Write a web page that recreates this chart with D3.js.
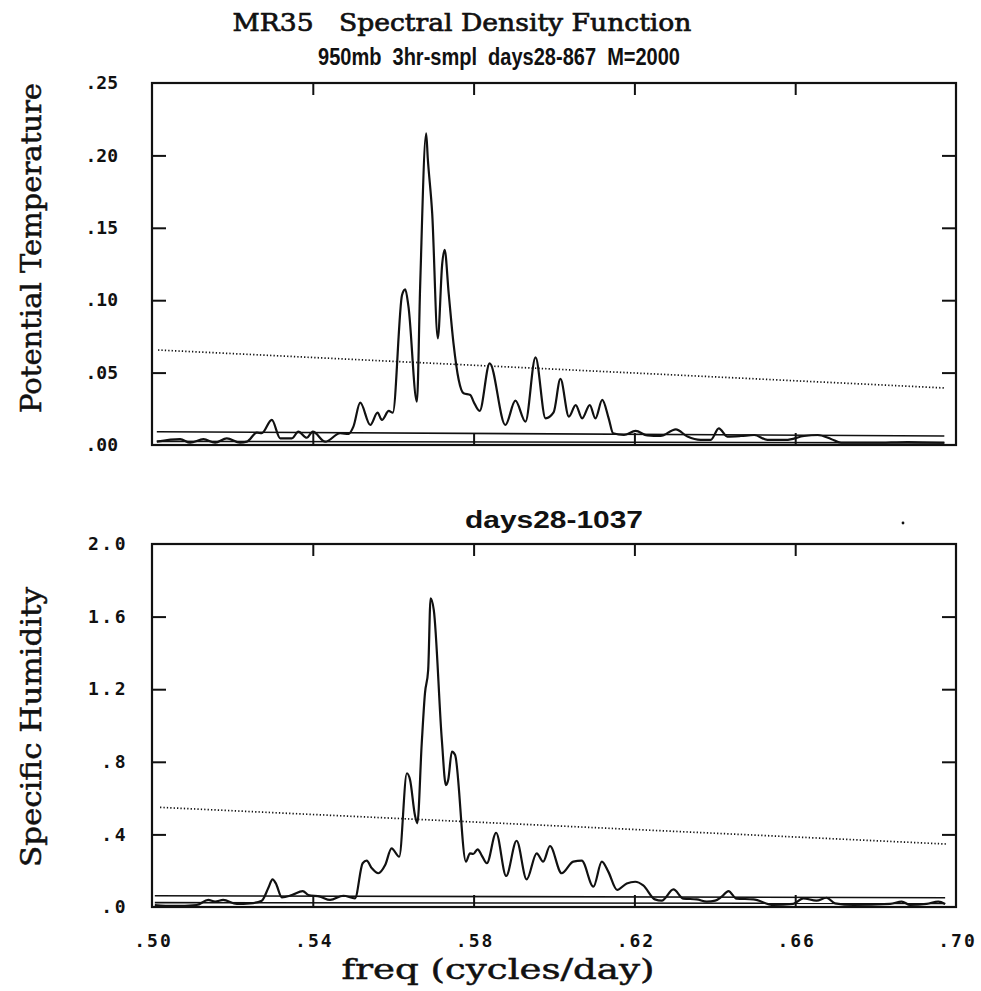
<!DOCTYPE html>
<html>
<head>
<meta charset="utf-8">
<script src="https://cdn.jsdelivr.net/npm/d3@7"></script>
<style>
  html, body { margin: 0; padding: 0; background: #fff; }
  svg { display: block; }
  .tick-label { font-family: "DejaVu Sans Mono", monospace; font-weight: bold; font-size: 18px;
    font-variant-numeric: slashed-zero; font-feature-settings: "zero" 1; fill: #111; }
</style>
</head>
<body>
<svg id="chart" width="981" height="991"></svg>
<script>
// ---- shared frequency axis (cycles/day) ----
const freqTicks = [0.50, 0.54, 0.58, 0.62, 0.66, 0.70];
const freqTickLabels = [".50", ".54", ".58", ".62", ".66", ".70"];

// ---- potential temperature spectrum (days 28-867) ----
const thetaTicks = [0.00, 0.05, 0.10, 0.15, 0.20, 0.25];
const thetaTickLabels = [".00", ".05", ".10", ".15", ".20", ".25"];
const thetaFreq = [
  0.5012, 0.5070, 0.5095, 0.5128, 0.5157, 0.5186, 0.5219, 0.5236, 0.5261, 0.5273,
  0.5298, 0.5319, 0.5348, 0.5364, 0.5385, 0.5400, 0.5431, 0.5468, 0.5489, 0.5501,
  0.5518, 0.5543, 0.5561, 0.5572, 0.5589, 0.5599, 0.5622, 0.5630, 0.5638, 0.5659,
  0.5667, 0.5682, 0.5686, 0.5697, 0.5711, 0.5722, 0.5728, 0.5738, 0.5750, 0.5763,
  0.5775, 0.5792, 0.5800, 0.5815, 0.5840, 0.5879, 0.5904, 0.5929, 0.5954, 0.5979,
  0.5999, 0.6016, 0.6037, 0.6054, 0.6070, 0.6089, 0.6103, 0.6120, 0.6136, 0.6147,
  0.6174, 0.6203, 0.6232, 0.6265, 0.6303, 0.6332, 0.6365, 0.6390, 0.6410, 0.6431,
  0.6465, 0.6498, 0.6531, 0.6577, 0.6622, 0.6656, 0.6689, 0.6714, 0.6797, 0.6880,
  0.6971
];
const thetaDensity = [
  0.0023, 0.0040, 0.0016, 0.0040, 0.0016, 0.0046, 0.0016, 0.0023, 0.0085, 0.0081,
  0.0173, 0.0046, 0.0046, 0.0092, 0.0050, 0.0092, 0.0023, 0.0081, 0.0077, 0.0127,
  0.0292, 0.0138, 0.0223, 0.0173, 0.0235, 0.0223, 0.1036, 0.1075, 0.0955, 0.0299,
  0.1093, 0.2153, 0.1980, 0.1600, 0.0737, 0.1255, 0.1347, 0.1048, 0.0702, 0.0449,
  0.0357, 0.0345, 0.0299, 0.0235, 0.0564, 0.0138, 0.0306, 0.0161, 0.0605, 0.0184,
  0.0225, 0.0456, 0.0196, 0.0276, 0.0184, 0.0276, 0.0184, 0.0311, 0.0184, 0.0081,
  0.0069, 0.0097, 0.0066, 0.0062, 0.0108, 0.0058, 0.0035, 0.0035, 0.0115, 0.0058,
  0.0062, 0.0069, 0.0035, 0.0035, 0.0062, 0.0069, 0.0042, 0.0016, 0.0016, 0.0020,
  0.0016
];
// significance level (dotted) and confidence bounds (solid), as end points
const thetaSignifFreq = [0.5015, 0.6970];
const thetaSignif = [0.0656, 0.0394];
const thetaBoundFreq = [0.5012, 0.6971];
const thetaUpperBound = [0.0092, 0.0062];
const thetaLowerBound = [0.0025, 0.0015];

// ---- specific humidity spectrum (days 28-1037) ----
const qTicks = [0.0, 0.4, 0.8, 1.2, 1.6, 2.0];
const qTickLabels = [".0", ".4", ".8", "1.2", "1.6", "2.0"];
const qFreq = [
  0.5007, 0.5053, 0.5111, 0.5140, 0.5157, 0.5177, 0.5211, 0.5244, 0.5273, 0.5289,
  0.5300, 0.5308, 0.5323, 0.5348, 0.5375, 0.5389, 0.5418, 0.5443, 0.5476, 0.5505,
  0.5524, 0.5534, 0.5547, 0.5563, 0.5580, 0.5596, 0.5615, 0.5634, 0.5642, 0.5654,
  0.5660, 0.5671, 0.5679, 0.5687, 0.5693, 0.5701, 0.5721, 0.5731, 0.5737, 0.5746,
  0.5754, 0.5781, 0.5791, 0.5799, 0.5810, 0.5820, 0.5833, 0.5856, 0.5881, 0.5907,
  0.5932, 0.5957, 0.5973, 0.5990, 0.6019, 0.6048, 0.6069, 0.6098, 0.6119, 0.6135,
  0.6157, 0.6181, 0.6202, 0.6222, 0.6251, 0.6268, 0.6297, 0.6322, 0.6355, 0.6380,
  0.6401, 0.6417, 0.6434, 0.6454, 0.6496, 0.6546, 0.6595, 0.6620, 0.6653, 0.6678,
  0.6699, 0.6745, 0.6836, 0.6865, 0.6886, 0.6927, 0.6956, 0.6973
];
const qDensity = [
  0.011, 0.006, 0.011, 0.039, 0.030, 0.039, 0.017, 0.020, 0.035, 0.103,
  0.152, 0.130, 0.053, 0.066, 0.088, 0.066, 0.057, 0.039, 0.062, 0.048,
  0.241, 0.255, 0.213, 0.186, 0.231, 0.323, 0.277, 0.737, 0.700, 0.507,
  0.461, 0.902, 1.177, 1.306, 1.701, 1.636, 0.920, 0.672, 0.703, 0.856,
  0.837, 0.250, 0.296, 0.292, 0.318, 0.285, 0.241, 0.409, 0.171, 0.365,
  0.152, 0.296, 0.250, 0.336, 0.186, 0.250, 0.255, 0.112, 0.250, 0.195,
  0.094, 0.130, 0.139, 0.119, 0.042, 0.035, 0.097, 0.046, 0.042, 0.030,
  0.035, 0.057, 0.088, 0.046, 0.042, 0.011, 0.017, 0.048, 0.035, 0.051,
  0.020, 0.011, 0.017, 0.030, 0.011, 0.017, 0.030, 0.017
];
const qSignifFreq = [0.5020, 0.6975];
const qSignif = [0.549, 0.347];
const qBoundFreq = [0.5007, 0.6973];
const qUpperBound = [0.062, 0.051];
const qLowerBound = [0.024, 0.020];

// ---- drawing ----
const ink = "#111";
const svg = d3.select("#chart");
const x = d3.scaleLinear().domain([0.50, 0.70]).range([152, 956]);
const zip = (fs, vs) => fs.map((f, i) => [f, vs[i]]);

function drawPanel(cfg) {
  const y = d3.scaleLinear().domain([cfg.ticks[0], cfg.ticks[cfg.ticks.length - 1]])
    .range([cfg.bottom, cfg.top]);
  const g = svg.append("g").style("color", ink);
  const line = d3.line().x(d => x(d[0])).y(d => y(d[1]));

  // confidence bounds
  [cfg.upper, cfg.lower].forEach(b => {
    g.append("path").datum(zip(cfg.boundFreq, b))
      .attr("d", line).attr("fill", "none").attr("stroke", ink).attr("stroke-width", 1.6);
  });
  // significance level
  g.append("path").datum(zip(cfg.signifFreq, cfg.signif))
    .attr("d", line).attr("fill", "none").attr("stroke", ink)
    .attr("stroke-width", 1.7).attr("stroke-dasharray", "1.3,2.1");
  // spectrum
  g.append("path").datum(zip(cfg.freq, cfg.density))
    .attr("d", line.curve(d3.curveMonotoneX)).attr("fill", "none")
    .attr("stroke", ink).attr("stroke-width", 2.2).attr("stroke-linejoin", "round");

  // frame
  g.append("rect").attr("x", x.range()[0]).attr("y", cfg.top)
    .attr("width", x.range()[1] - x.range()[0]).attr("height", cfg.bottom - cfg.top)
    .attr("fill", "none").attr("stroke", ink).attr("stroke-width", 2.2);

  // inward tick marks on all four sides
  const innerX = freqTicks.slice(1, -1), innerY = cfg.ticks.slice(1, -1);
  const tickAxes = [
    [d3.axisBottom(x).tickValues(innerX).tickSize(-12), `translate(0,${cfg.bottom})`],
    [d3.axisTop(x).tickValues(innerX).tickSize(-12), `translate(0,${cfg.top})`],
    [d3.axisLeft(y).tickValues(innerY).tickSize(-14), `translate(${x.range()[0]},0)`],
    [d3.axisRight(y).tickValues(innerY).tickSize(-14), `translate(${x.range()[1]},0)`]
  ];
  tickAxes.forEach(([ax, tr]) => {
    g.append("g").attr("transform", tr).call(ax.tickFormat(""))
      .call(s => s.select(".domain").remove())
      .call(s => s.selectAll(".tick line").attr("stroke-width", 2));
  });

  // value labels
  g.append("g").attr("transform", `translate(${x.range()[0]},0)`)
    .call(d3.axisLeft(y).tickValues(cfg.ticks).tickSize(0).tickPadding(cfg.labelPad)
      .tickFormat((d, i) => cfg.tickLabels[i]))
    .call(s => s.select(".domain").remove())
    .call(s => s.selectAll("text").attr("class", "tick-label")
      .style("letter-spacing", cfg.labelSpacing + "px"));

  if (cfg.freqLabels) {
    g.append("g").attr("transform", `translate(${cfg.labelShift},${cfg.bottom})`)
      .call(d3.axisBottom(x).tickValues(freqTicks).tickSize(0).tickPadding(27)
        .tickFormat((d, i) => freqTickLabels[i]))
      .call(s => s.select(".domain").remove())
      .call(s => s.selectAll("text").attr("class", "tick-label")
        .style("letter-spacing", "2px"));
  }
  return g;
}

drawPanel({
  top: 83, bottom: 445, ticks: thetaTicks, tickLabels: thetaTickLabels,
  freq: thetaFreq, density: thetaDensity,
  signifFreq: thetaSignifFreq, signif: thetaSignif,
  boundFreq: thetaBoundFreq, upper: thetaUpperBound, lower: thetaLowerBound,
  labelPad: 34, labelSpacing: 0, freqLabels: false
});
drawPanel({
  top: 544, bottom: 907, ticks: qTicks, tickLabels: qTickLabels,
  freq: qFreq, density: qDensity,
  signifFreq: qSignifFreq, signif: qSignif,
  boundFreq: qBoundFreq, upper: qUpperBound, lower: qLowerBound,
  labelPad: 24, labelSpacing: 2.5, freqLabels: true, labelShift: 1
});

// ---- titles ----
function label(txt, attrs) {
  const t = svg.append("text").text(txt).attr("fill", ink).style("white-space", "pre");
  Object.entries(attrs).forEach(([k, v]) => t.attr(k, v));
  return t;
}
const serif = "'DejaVu Serif', serif";
const sansBold = "'Liberation Sans', Arial, sans-serif";
const serifInk = { stroke: ink, "stroke-width": 0.5 };

label("MR35   Spectral Density Function", Object.assign({
  x: 462, y: 31, "text-anchor": "middle", "font-family": serif, "font-size": 25,
  textLength: 459, lengthAdjust: "spacingAndGlyphs"
}, serifInk, { "stroke-width": 0.7 }));
label("950mb  3hr-smpl  days28-867  M=2000", {
  x: 499, y: 65, "text-anchor": "middle", "font-family": sansBold, "font-weight": "bold",
  "font-size": 23, textLength: 362, lengthAdjust: "spacingAndGlyphs"
});
label("days28-1037", {
  x: 554, y: 528, "text-anchor": "middle", "font-family": sansBold, "font-weight": "bold",
  "font-size": 23, textLength: 178, lengthAdjust: "spacingAndGlyphs"
});
svg.append("circle").attr("cx", 903).attr("cy", 523).attr("r", 1.4).attr("fill", ink);

label("freq (cycles/day)", Object.assign({
  x: 498, y: 979, "text-anchor": "middle", "font-family": serif, "font-size": 28,
  textLength: 313, lengthAdjust: "spacingAndGlyphs"
}, serifInk));
label("Potential Temperature", Object.assign({
  transform: "translate(41,248) rotate(-90)", "text-anchor": "middle",
  "font-family": serif, "font-size": 28, textLength: 330, lengthAdjust: "spacingAndGlyphs"
}, serifInk));
label("Specific Humidity", Object.assign({
  transform: "translate(41,727) rotate(-90)", "text-anchor": "middle",
  "font-family": serif, "font-size": 28, textLength: 280, lengthAdjust: "spacingAndGlyphs"
}, serifInk));
</script>
</body>
</html>
